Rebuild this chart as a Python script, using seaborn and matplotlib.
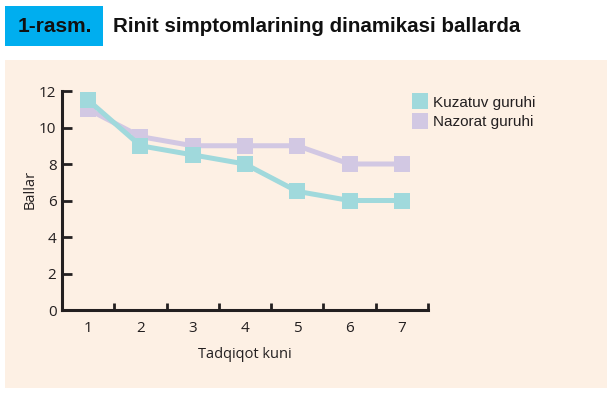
import pandas as pd
import numpy as np
import matplotlib
matplotlib.use("Agg")
import matplotlib.pyplot as plt
import seaborn as sns
from matplotlib.lines import Line2D
from matplotlib.patches import Rectangle

# ------------------------------------------------------------------
# Data
# ------------------------------------------------------------------
days = [1, 2, 3, 4, 5, 6, 7]
kuzatuv = [11.5, 9.0, 8.5, 8.0, 6.5, 6.0, 6.0]
nazorat = [11.0, 9.5, 9.0, 9.0, 9.0, 8.0, 8.0]
series_names = ["Kuzatuv guruhi", "Nazorat guruhi"]
y_ticks = [0, 2, 4, 6, 8, 10, 12]

df = pd.DataFrame({
    "day": days * 2,
    "score": kuzatuv + nazorat,
    "group": [series_names[0]] * len(days) + [series_names[1]] * len(days),
})

# ------------------------------------------------------------------
# Styling
# ------------------------------------------------------------------
sns.set_style("white")
plt.rcParams["font.family"] = ["Open Sans", "DejaVu Sans"]

cyan = "#a0d9dc"
lilac = "#d2c8e3"
panel_bg = "#fdf0e4"
axis_col = "#231f20"
palette = {series_names[0]: cyan, series_names[1]: lilac}
title_font = ["Liberation Sans Narrow", "Liberation Sans", "DejaVu Sans"]

fig = plt.figure(figsize=(6.15, 3.96), dpi=100)
fig.patch.set_facecolor("white")

# header box + title
fig.patches.append(Rectangle((5 / 615, 1 - 46 / 396), 98 / 615, 40 / 396,
                             transform=fig.transFigure, facecolor="#00aeef",
                             edgecolor="none", zorder=-2))
fig.text(18 / 615, 1 - 27 / 396, "1-rasm.", fontsize=15, fontweight="bold",
         family=title_font, va="center", color="#111111")
fig.text(113 / 615, 1 - 27 / 396, "Rinit simptomlarining dinamikasi ballarda",
         fontsize=14.8, fontweight="bold", family=title_font, va="center",
         color="#111111")

# peach panel behind the plot
fig.patches.append(Rectangle((5 / 615, 1 - 388 / 396), 602 / 615, 328 / 396,
                             transform=fig.transFigure, facecolor=panel_bg,
                             edgecolor="none", zorder=-2))

ax = fig.add_axes([62 / 615, 86 / 396, 366 / 615, 219 / 396])
ax.set_facecolor("none")
ax.set_zorder(1)

# draw Nazorat first so Kuzatuv sits on top
sns.lineplot(data=df, x="day", y="score", hue="group", palette=palette,
             hue_order=series_names[::-1], marker="s", markersize=11.5,
             markeredgewidth=0, linewidth=3.6, ax=ax, legend=False)

ax.set_xlim(0.5, 7.5)
ax.set_ylim(0, 12)
ax.set_xticks(days)
ax.set_xticklabels([str(d) for d in days])
ax.set_xticks(np.arange(1.5, 8, 1), minor=True)
ax.set_yticks(y_ticks)
ax.tick_params(axis="x", which="major", bottom=True, length=0, pad=8,
               labelsize=11, labelcolor="#231f20")
ax.tick_params(axis="x", which="minor", bottom=True, direction="in",
               length=5, width=2, color=axis_col)
ax.tick_params(axis="y", which="major", left=True, direction="in", length=7,
               width=2, color=axis_col, labelsize=11, labelcolor="#231f20",
               pad=4)

for side in ["top", "right"]:
    ax.spines[side].set_visible(False)
for side in ["left", "bottom"]:
    ax.spines[side].set_color(axis_col)
    ax.spines[side].set_linewidth(2.2)

ax.set_xlabel("Tadqiqot kuni", fontsize=10.5, labelpad=8, color="#231f20")
ax.set_ylabel("Ballar", fontsize=10.5, color="#231f20")
ax.yaxis.set_label_coords(-0.066, 0.55)

# legend with square swatches
handles = [Line2D([], [], linestyle="none", marker="s", markersize=11,
                  markerfacecolor=c, markeredgewidth=0) for c in (cyan, lilac)]
leg = fig.legend(handles, series_names, loc="upper left",
                 bbox_to_anchor=(399 / 615, 1 - 82 / 396), frameon=False,
                 handlelength=0.9, handletextpad=0.4, labelspacing=0.35,
                 prop={"family": ["Liberation Sans", "DejaVu Sans"], "size": 11})
for t in leg.get_texts():
    t.set_color("#231f20")

fig.savefig("out.png", dpi=100, facecolor="white")
